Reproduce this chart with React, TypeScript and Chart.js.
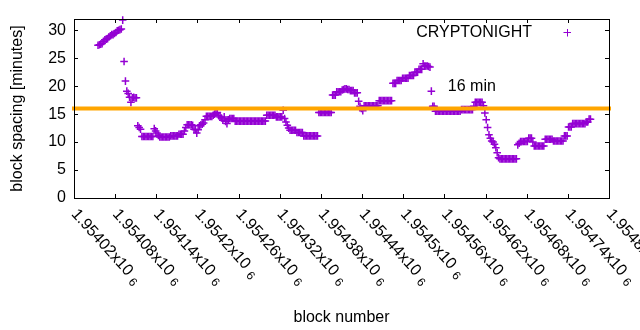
import React, { useEffect, useRef } from "react";
import { Chart, registerables } from "chart.js";

Chart.register(...registerables);

const FONT = '"Liberation Sans", Arial, sans-serif';
const PURPLE = "#9400d3";
const ORANGE = "#ffa500";

const X_MIN = 1954020;
const X_MAX = 1954800;
const X_TICKS = [
  1954020, 1954080, 1954140, 1954200, 1954260, 1954320, 1954380,
  1954440, 1954500, 1954560, 1954620, 1954680, 1954740, 1954800,
];
const X_TICK_MANTISSA = [
  "1.95402", "1.95408", "1.95414", "1.9542", "1.95426", "1.95432", "1.95438",
  "1.95444", "1.9545", "1.95456", "1.95462", "1.95468", "1.95474", "1.9548",
];
const X_TICK_EXPONENT = "6";
const Y_MIN = 0;
const Y_MAX = 32;
const Y_TICKS = [0, 5, 10, 15, 20, 25, 30];

const X_TITLE = "block number";
const Y_TITLE = "block spacing [minutes]";
const SERIES_NAME = "CRYPTONIGHT";
const LIMIT_VALUE = 16;
const LIMIT_LABEL = "16 min";
const LIMIT_LABEL_X = 1954565;
const LIMIT_LABEL_Y = 20;

// block spacing, one value every BLOCK_STEP blocks starting at FIRST_BLOCK
const FIRST_BLOCK = 1954055;
const BLOCK_STEP = 2;
const SPACING = [
  27.3, 27.4, 27.5, 27.6, 28.0, 28.3, 28.4, 28.5, 28.8, 29.0, 29.2, 29.2, 29.4, 29.6, 29.9, 30.0, 30.1,
  30.2, 31.8, 24.4, 20.9, 19.1, 18.7, 18.0, 17.1, 17.9, 18.0, 17.9, 17.9,
  12.9, 12.6, 12.3,
  11.0, 11.0, 11.0, 11.0, 11.0, 11.0, 11.0, 11.0, 11.0,
  12.4, 12.0, 11.6, 11.2,
  10.9, 10.9, 10.9, 10.9, 10.9, 10.9, 10.9, 10.9,
  11.1, 11.1, 11.1, 11.1, 11.1, 11.1,
  11.4, 11.4, 11.4, 11.4,
  12.0, 12.6, 13.1, 13.1, 13.1, 13.1, 13.0,
  12.3, 12.2, 11.6, 12.2,
  12.9, 13.1, 13.2, 13.4,
  14.0, 14.6, 14.6, 14.6, 14.6, 14.6, 14.8, 15.0, 15.2,
  15.3, 14.7, 14.5, 14.3, 13.9, 14.5, 13.7, 13.3, 14.0,
  14.2, 14.2, 14.2, 14.2,
  13.75, 13.75, 13.75, 13.75, 13.75, 13.75, 13.75, 13.75, 13.75, 13.75,
  13.75, 13.75, 13.75, 13.75, 13.75, 13.75, 13.75, 13.75, 13.75, 13.75,
  13.75, 13.75, 13.75,
  14.8, 14.8, 14.8, 14.8, 14.8, 14.8, 14.8,
  14.5, 14.5, 14.5, 14.5, 14.5,
  15.7,
  14.2, 13.6, 13.0, 12.5,
  12.1, 12.1, 12.1, 12.1, 12.1,
  11.7, 11.7, 11.7, 11.7, 11.7,
  11.1, 11.1, 11.1, 11.1, 11.1, 11.1, 11.1, 11.1, 11.1, 11.1, 11.1,
  15.3, 15.3, 15.3, 15.3, 15.3, 15.3, 15.3, 15.3, 15.3, 15.3,
  18.4, 18.4, 18.4,
  19.0, 19.0, 19.0, 19.0,
  19.3, 19.4, 19.5, 19.5, 19.4, 19.4,
  19.2, 19.2, 19.2,
  18.8, 18.8, 18.8,
  17.3, 16.4, 16.0, 15.6,
  16.5, 16.5, 16.5, 16.5, 16.5, 16.5, 16.5, 16.5, 16.5, 16.5, 16.5,
  17.4, 17.4, 17.4, 17.4, 17.4, 17.4, 17.4, 17.4, 17.4, 17.4,
  20.5, 20.5, 20.5,
  21.0, 21.0, 21.0, 21.0,
  21.4, 21.4, 21.4, 21.4, 21.4,
  21.9, 21.9, 21.9, 21.9,
  22.5, 22.5, 22.5,
  23.0, 23.0, 23.0,
  24.0,
  23.6, 23.6, 23.6, 23.5, 23.4,
  19.1,
  16.4, 16.4,
  15.5, 15.5, 15.5, 15.5, 15.5, 15.5, 15.5, 15.5, 15.5, 15.5,
  15.5, 15.5, 15.5, 15.5, 15.5, 15.5, 15.5, 15.5, 15.5,
  15.8, 15.8, 15.8, 15.8, 15.8, 15.8, 15.8, 15.8, 15.8,
  16.4,
  17.1, 17.1, 17.1, 17.1, 17.1, 17.1,
  16.5, 15.2, 14.0,
  12.6, 11.3, 10.7, 10.2, 10.0, 9.6, 9.0, 8.1, 7.2,
  7.0, 7.0, 7.0, 7.0, 7.0, 7.0, 7.0, 7.0, 7.0, 7.0, 7.0, 7.0, 7.0,
  9.5, 9.8, 10.1, 10.1, 10.1, 10.1, 10.1, 10.1,
  10.7, 10.7, 10.7,
  10.0,
  9.3, 9.3, 9.3, 9.3, 9.3, 9.3, 9.3, 9.3,
  10.5, 10.5, 10.5, 10.5, 10.5, 10.5,
  10.2, 10.2, 10.2, 10.2, 10.2, 10.2, 10.2, 10.2,
  11.1, 11.1, 11.1,
  12.7, 12.7, 12.7,
  13.3, 13.3, 13.3, 13.3, 13.3, 13.3, 13.3, 13.3, 13.3, 13.3,
  13.6, 13.6,
  14.1, 14.1,
];

const POINTS = SPACING.map((v, i) => ({ x: FIRST_BLOCK + BLOCK_STEP * i, y: v }));

const LABEL_ANGLE = (48 * Math.PI) / 180;

const framePlugin = {
  id: "gnuplotFrame",
  afterDraw(chart: any) {
    const { ctx, chartArea: a, scales } = chart;
    const xs = scales.x;
    const ys = scales.y;
    ctx.save();
    ctx.strokeStyle = "#000";
    ctx.lineWidth = 1;
    ctx.strokeRect(a.left + 0.5, a.top + 0.5, a.right - a.left, a.bottom - a.top);
    const T = 4;
    ctx.beginPath();
    for (const v of Y_TICKS) {
      const py = Math.round(ys.getPixelForValue(v)) + 0.5;
      ctx.moveTo(a.left, py);
      ctx.lineTo(a.left + T, py);
      ctx.moveTo(a.right, py);
      ctx.lineTo(a.right - T, py);
    }
    for (const v of X_TICKS) {
      const px = Math.round(xs.getPixelForValue(v)) + 0.5;
      ctx.moveTo(px, a.bottom);
      ctx.lineTo(px, a.bottom - T);
      ctx.moveTo(px, a.top);
      ctx.lineTo(px, a.top + T);
    }
    ctx.stroke();

    ctx.fillStyle = "#000";
    ctx.font = `16px ${FONT}`;
    // y tick labels
    ctx.textAlign = "right";
    ctx.textBaseline = "middle";
    for (const v of Y_TICKS) {
      ctx.fillText(String(v), a.left - 8, ys.getPixelForValue(v));
    }
    // x tick labels rotated
    X_TICKS.forEach((v, k) => {
      const px = xs.getPixelForValue(v);
      ctx.save();
      ctx.translate(px, a.bottom + 13.5);
      ctx.rotate(LABEL_ANGLE);
      ctx.textAlign = "left";
      ctx.textBaseline = "middle";
      ctx.font = `16px ${FONT}`;
      const main = X_TICK_MANTISSA[k] + "x10";
      ctx.fillText(main, 0, 0);
      const w = ctx.measureText(main).width;
      ctx.font = `12px ${FONT}`;
      ctx.fillText(X_TICK_EXPONENT, w + 5, 4);
      ctx.restore();
    });
    // axis titles
    ctx.font = `16px ${FONT}`;
    ctx.textAlign = "center";
    ctx.textBaseline = "alphabetic";
    ctx.fillText(X_TITLE, (a.left + a.right) / 2, 321.5);
    ctx.save();
    ctx.translate(22, (a.top + a.bottom) / 2);
    ctx.rotate(-Math.PI / 2);
    ctx.fillText(Y_TITLE, 0, 0);
    ctx.restore();
    // legend
    ctx.textAlign = "right";
    ctx.fillText(SERIES_NAME, 532, 37);
    ctx.strokeStyle = PURPLE;
    ctx.beginPath();
    ctx.moveTo(563.5, 32.5);
    ctx.lineTo(571, 32.5);
    ctx.moveTo(567.5, 29);
    ctx.lineTo(567.5, 36.5);
    ctx.stroke();
    // limit label
    ctx.textAlign = "left";
    ctx.textBaseline = "middle";
    ctx.fillText(LIMIT_LABEL, xs.getPixelForValue(LIMIT_LABEL_X), ys.getPixelForValue(LIMIT_LABEL_Y));
    ctx.restore();
  },
};

export default function App() {
  const ref = useRef<HTMLCanvasElement | null>(null);
  useEffect(() => {
    if (!ref.current) return;
    const chart = new Chart(ref.current, {
      type: "scatter",
      data: {
        datasets: [
          {
            type: "line",
            label: LIMIT_LABEL,
            data: [
              { x: X_MIN, y: LIMIT_VALUE },
              { x: X_MAX, y: LIMIT_VALUE },
            ],
            borderColor: ORANGE,
            backgroundColor: ORANGE,
            borderWidth: 4,
            borderCapStyle: "square",
            pointRadius: 0,
            clip: false,
            order: 0,
          } as any,
          {
            type: "scatter",
            label: SERIES_NAME,
            data: POINTS,
            pointStyle: "cross",
            pointRadius: 3.8,
            borderWidth: 1.5,
            borderColor: PURPLE,
            backgroundColor: PURPLE,
            clip: false,
            order: 1,
          } as any,
        ],
      },
      options: {
        responsive: false,
        animation: false,
        devicePixelRatio: 1,
        events: [],
        layout: { padding: { left: 74, right: 31, top: 19, bottom: 132 } },
        plugins: { legend: { display: false }, tooltip: { enabled: false } },
        scales: {
          x: { type: "linear", min: X_MIN, max: X_MAX, display: false },
          y: { type: "linear", min: Y_MIN, max: Y_MAX, display: false },
        },
      },
      plugins: [framePlugin],
    });
    return () => chart.destroy();
  }, []);
  return (
    <div style={{ position: "fixed", left: 0, top: 0, width: 640, height: 330, background: "#fff" }}>
      <canvas ref={ref} width={640} height={330} style={{ display: "block" }} />
    </div>
  );
}
